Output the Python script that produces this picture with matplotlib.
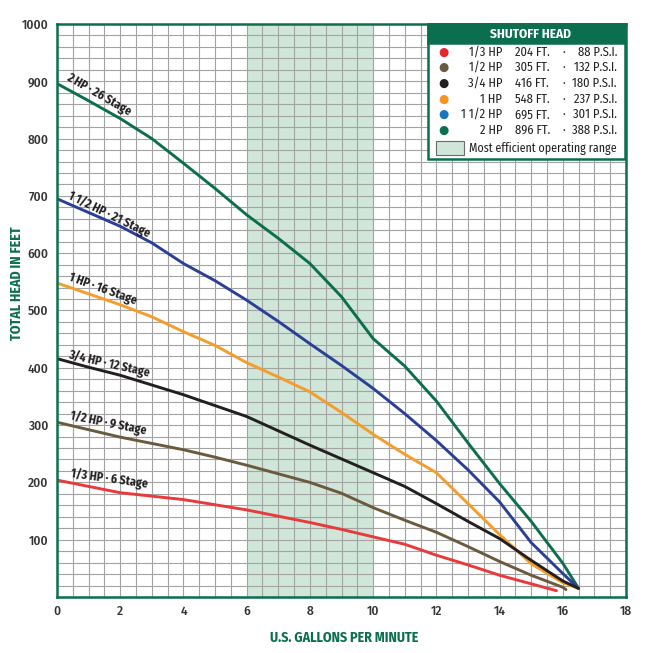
import matplotlib
matplotlib.use("Agg")
import matplotlib.pyplot as plt
from matplotlib.patches import Rectangle

plt.rcParams['font.family'] = ['Fira Sans Condensed', 'DejaVu Sans']

# ---------------- DATA ----------------
gpm = [0, 1, 2, 3, 4, 5, 6, 7, 8, 9, 10, 11, 12, 13, 14, 15, 16]

head_2hp = [896, 866, 835, 800, 757, 713, 667, 626, 582, 524, 451, 403, 342, 269, 198, 132, 59]
head_1_5hp = [695, 671, 647, 618, 582, 552, 518, 481, 442, 404, 364, 320, 273, 222, 166, 95, 41]
head_1hp = [548, 529, 510, 489, 463, 439, 409, 384, 358, 322, 284, 249, 217, 163, 109, 58, 25]
head_3_4hp = [416, 401, 387, 370, 353, 334, 315, 290, 265, 241, 217, 193, 163, 132, 102, 64, 28]
head_1_2hp = [305, 292, 279, 268, 257, 244, 230, 215, 200, 181, 156, 134, 113, 88, 62, 38, 17]
head_1_3hp = [204, 193, 182, 176, 170, 161, 152, 141, 130, 118, 105, 92, 73, 56, 38, 23]

# end points of each curve (gpm, ft)
end_2hp = (16.5, 15)
end_1_5hp = (16.5, 15)
end_1hp = (16.5, 15)
end_3_4hp = (16.5, 15)
end_1_2hp = (16.1, 13)
end_1_3hp = (15.8, 11)

curve_labels = ['2 HP · 26 Stage', '1 1/2 HP · 21 Stage', '1 HP · 16 Stage',
                '3/4 HP · 12 Stage', '1/2 HP · 9 Stage', '1/3 HP · 6 Stage']

hp_names = ['1/3 HP', '1/2 HP', '3/4 HP', '1 HP', '1 1/2 HP', '2 HP']
shutoff_ft = ['204 FT.', '305 FT.', '416 FT.', '548 FT.', '695 FT.', '896 FT.']
shutoff_psi = ['88 P.S.I.', '132 P.S.I.', '180 P.S.I.', '237 P.S.I.', '301 P.S.I.', '388 P.S.I.']

efficient_range = (6, 10)

# ---------------- STYLE ----------------
GREEN = '#0b6e4f'
BAND = '#cfe6d8'
TXT = '#231f20'
line_colors = ['#0b6e4f', '#2c3f96', '#f59d2a', '#231f20', '#6b5a3e', '#e83a3b']
dot_colors = ['#e8262d', '#6b5a3e', '#231f20', '#f7941d', '#1b75bc', '#0b6e4f']

fig = plt.figure(figsize=(6.57, 6.53), dpi=100)
ax = fig.add_axes([57 / 657, 1 - 597 / 653, (626 - 57) / 657, (597 - 24) / 653])

ax.axvspan(*efficient_range, color=BAND, zorder=0, lw=0)

# grid
for gx in [i * 0.5 for i in range(1, 36)]:
    ax.axvline(gx, color='#a3a3a3', lw=0.8, zorder=1)
for gy in range(20, 1000, 20):
    ax.axhline(gy, color='#a3a3a3', lw=0.8, zorder=1)

series = [head_2hp, head_1_5hp, head_1hp, head_3_4hp, head_1_2hp, head_1_3hp]
ends = [end_2hp, end_1_5hp, end_1hp, end_3_4hp, end_1_2hp, end_1_3hp]
for vals, end, col in zip(series, ends, line_colors):
    xs = gpm[:len(vals)] + [end[0]]
    ys = vals + [end[1]]
    ax.plot(xs, ys, color=col, lw=2.1, zorder=3, solid_capstyle='round', solid_joinstyle='round')

# curve labels (x, y, angle)
label_pos = [(1.30, 877, -30), (1.66, 668, -26), (1.45, 537, -20),
             (1.66, 407, -13), (1.61, 303, -11.5), (1.66, 207, -8)]
for txt, (lx, ly, rot) in zip(curve_labels, label_pos):
    ax.text(lx, ly, txt, rotation=rot, rotation_mode='anchor', ha='center', va='center',
            fontsize=8.6, fontweight='bold', color=TXT, zorder=4)

ax.set_xlim(0, 18)
ax.set_ylim(0, 1000)
ax.set_xticks(range(0, 19, 2))
ax.set_yticks(range(100, 1001, 100))
ax.tick_params(length=0, labelsize=9.5, labelcolor='#333333', pad=6)
for lab in ax.get_xticklabels() + ax.get_yticklabels():
    lab.set_fontweight('medium')
for s in ax.spines.values():
    s.set_color(GREEN)
    s.set_linewidth(1.8)
    s.set_zorder(5)

fig.text(17 / 657, 1 - 283 / 653, 'TOTAL HEAD IN FEET', rotation=90, ha='center', va='center',
         fontsize=10, fontweight='bold', color=GREEN)
fig.text(344 / 657, 1 - 638 / 653, 'U.S. GALLONS PER MINUTE', ha='center', va='center',
         fontsize=10, fontweight='bold', color=GREEN)


# ---------------- LEGEND BOX ----------------
def fx(px):
    return px / 657


def fy(py):
    return 1 - py / 653


box = Rectangle((fx(428), fy(159)), fx(625) - fx(428), fy(24) - fy(159), transform=fig.transFigure,
                facecolor='white', edgecolor=GREEN, lw=1.8, zorder=6)
fig.patches.append(box)
header = Rectangle((fx(428), fy(43)), fx(625) - fx(428), fy(24) - fy(43), transform=fig.transFigure,
                   facecolor=GREEN, edgecolor=GREEN, lw=1.8, zorder=7)
fig.patches.append(header)
fig.text(fx(530), fy(34), 'SHUTOFF HEAD', ha='center', va='center', color='white',
         fontsize=9.5, fontweight='bold', zorder=8)

row_y = [52.5, 67.5, 83, 99, 114.5, 130]
for i in range(6):
    yy = fy(row_y[i])
    fig.text(fx(443), yy, '\u25cf', ha='center', va='center', color=dot_colors[i], fontsize=8.5,
             family='DejaVu Sans', zorder=8)
    fig.text(fx(502), yy, hp_names[i], ha='right', va='center', color=TXT, fontsize=9, zorder=8)
    fig.text(fx(515), yy, shutoff_ft[i], ha='left', va='center', color=TXT, fontsize=9, zorder=8)
    fig.text(fx(564), yy, '·', ha='center', va='center', color=TXT, fontsize=9, zorder=8)
    fig.text(fx(617), yy, shutoff_psi[i], ha='right', va='center', color=TXT, fontsize=9, zorder=8)

swatch = Rectangle((fx(436), fy(155)), fx(464) - fx(436), fy(141) - fy(155), transform=fig.transFigure,
                   facecolor=BAND, edgecolor='#6b6b6b', lw=0.8, zorder=8)
fig.patches.append(swatch)
fig.text(fx(469), fy(148.5), 'Most efficient operating range', ha='left', va='center',
         color=TXT, fontsize=8.6, zorder=8)

fig.savefig('out.png', dpi=100)
